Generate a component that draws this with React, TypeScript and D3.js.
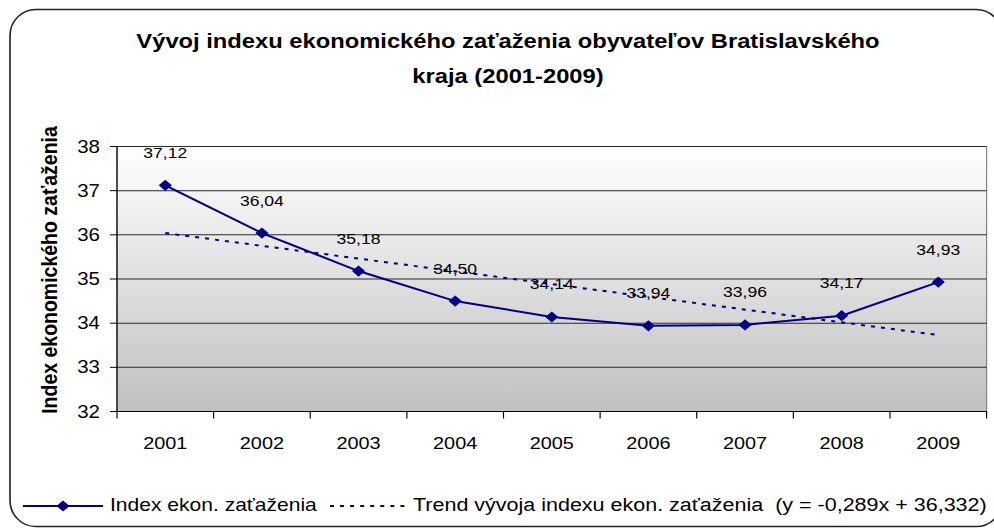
import * as d3 from "d3";

// values
const years = ["2001", "2002", "2003", "2004", "2005", "2006", "2007", "2008", "2009"];
const indexValues = [37.12, 36.04, 35.18, 34.5, 34.14, 33.94, 33.96, 34.17, 34.93];
const labelTexts = ["37,12", "36,04", "35,18", "34,50", "34,14", "33,94", "33,96", "34,17", "34,93"];
// linear trend, values at first and last year
const trendYears = ["2001", "2009"];
const trendValues = [36.04, 33.73];
const yTicks = [32, 33, 34, 35, 36, 37, 38];

const titleLines = [
  "Vývoj indexu ekonomického zaťaženia obyvateľov Bratislavského",
  "kraja (2001-2009)",
];
const yTitle = "Index ekonomického zaťaženia";
const legendSeries = "Index ekon. zaťaženia";
const legendTrend = "Trend vývoja indexu ekon. zaťaženia  (y = -0,289x + 36,332)";

// the picture is stretched horizontally, so draw in a narrower box and let the svg stretch it
const W = 850;
const H = 528;
const PX = 994;
const sx = PX / W;
const FONT = "'Liberation Sans', Arial, sans-serif";
const NAVY = "#000080";

export default function App() {
  const left = 117 / sx;
  const right = 986.6 / sx;
  const top = 146.5;
  const bottom = 411.5;

  const x = d3.scaleBand<string>().domain(years).range([left, right]);
  const cx = (d: string) => (x(d) ?? 0) + x.bandwidth() / 2;
  const y = d3.scaleLinear().domain([32, 38]).range([bottom, top]);

  const line = d3
    .line<number>()
    .x((_, i) => cx(years[i]))
    .y((d) => y(d));

  const trendLine = d3
    .line<number>()
    .x((_, i) => cx(trendYears[i]))
    .y((d) => y(d));

  const diamond = (px: number, py: number, r = 5.6) =>
    `M${px},${py - r}L${px + r},${py}L${px},${py + r}L${px - r},${py}Z`;

  const boundaries = years.map((d) => x(d) ?? 0).concat([right]);

  return (
    <div style={{ position: "absolute", left: 0, top: 0 }}>
      <svg
        width={PX}
        height={H}
        viewBox={`0 0 ${W} ${H}`}
        preserveAspectRatio="none"
        style={{ display: "block", background: "#fff" }}
      >
        <defs>
          <linearGradient id="plotBg" x1="0" y1="0" x2="0" y2="1">
            <stop offset="0" stopColor="#ffffff" />
            <stop offset="1" stopColor="#c0c0c0" />
          </linearGradient>
        </defs>

        {/* outer frame */}
        <rect
          x={10 / sx}
          y={9.5}
          width={1002 / sx - 10 / sx}
          height={517}
          rx={22}
          ry={26}
          fill="#fff"
          stroke="#222"
          strokeWidth={1.4}
        />

        {/* title */}
        {titleLines.map((t, i) => (
          <text
            key={t}
            x={508 / sx}
            y={48 + i * 35}
            textAnchor="middle"
            fontFamily={FONT}
            fontWeight="bold"
            fontSize={20.3}
            fill="#000"
          >
            {t}
          </text>
        ))}

        {/* plot area */}
        <rect x={left} y={top} width={right - left} height={bottom - top} fill="url(#plotBg)" stroke="#808080" strokeWidth={1} />
        {yTicks.map((t) => (
          <line key={t} x1={left} x2={right} y1={y(t)} y2={y(t)} stroke="#2a2a2a" strokeWidth={1} />
        ))}

        {/* y axis */}
        <line x1={left} x2={left} y1={top} y2={bottom} stroke="#000" strokeWidth={1} />
        {yTicks.map((t) => (
          <g key={t}>
            <line x1={left - 6} x2={left} y1={y(t)} y2={y(t)} stroke="#000" strokeWidth={1} />
            <text x={100 / sx} y={y(t)} dy="0.35em" textAnchor="end" fontFamily={FONT} fontSize={17.5} fill="#000">
              {t}
            </text>
          </g>
        ))}
        <text
          transform={`translate(${57 / sx},${270}) rotate(-90)`}
          textAnchor="middle"
          fontFamily={FONT}
          fontWeight="bold"
          fontSize={19.5}
          fill="#000"
        >
          {yTitle}
        </text>

        {/* x axis */}
        <line x1={left} x2={right} y1={bottom} y2={bottom} stroke="#000" strokeWidth={1} />
        {boundaries.map((b, i) => (
          <line key={i} x1={b} x2={b} y1={bottom} y2={bottom + 7} stroke="#000" strokeWidth={1} />
        ))}
        {years.map((d) => (
          <text key={d} x={cx(d)} y={bottom + 37.5} textAnchor="middle" fontFamily={FONT} fontSize={17} fill="#000">
            {d}
          </text>
        ))}

        {/* trend */}
        <path d={trendLine(trendValues) ?? ""} fill="none" stroke={NAVY} strokeWidth={2} strokeDasharray="3.4,5.2" />

        {/* series */}
        <path d={line(indexValues) ?? ""} fill="none" stroke={NAVY} strokeWidth={2} />
        {indexValues.map((v, i) => (
          <path key={i} d={diamond(cx(years[i]), y(v))} fill={NAVY} />
        ))}
        {indexValues.map((v, i) => (
          <text
            key={i}
            x={cx(years[i])}
            y={y(v) - 27.5}
            textAnchor="middle"
            fontFamily={FONT}
            fontSize={15}
            fill="#000"
          >
            {labelTexts[i]}
          </text>
        ))}

        {/* legend */}
        <line x1={23 / sx} x2={103 / sx} y1={506} y2={506} stroke={NAVY} strokeWidth={2} />
        <path d={diamond(63 / sx, 506)} fill={NAVY} />
        <text x={110 / sx} y={511} fontFamily={FONT} fontSize={18} fill="#000">
          {legendSeries}
        </text>
        <line x1={330 / sx} x2={405 / sx} y1={506} y2={506} stroke={NAVY} strokeWidth={2} strokeDasharray="3.4,5.2" />
        <text x={413 / sx} y={511} fontFamily={FONT} fontSize={18.4} fill="#000" style={{ whiteSpace: "pre" }}>
          {legendTrend}
        </text>
      </svg>
    </div>
  );
}
